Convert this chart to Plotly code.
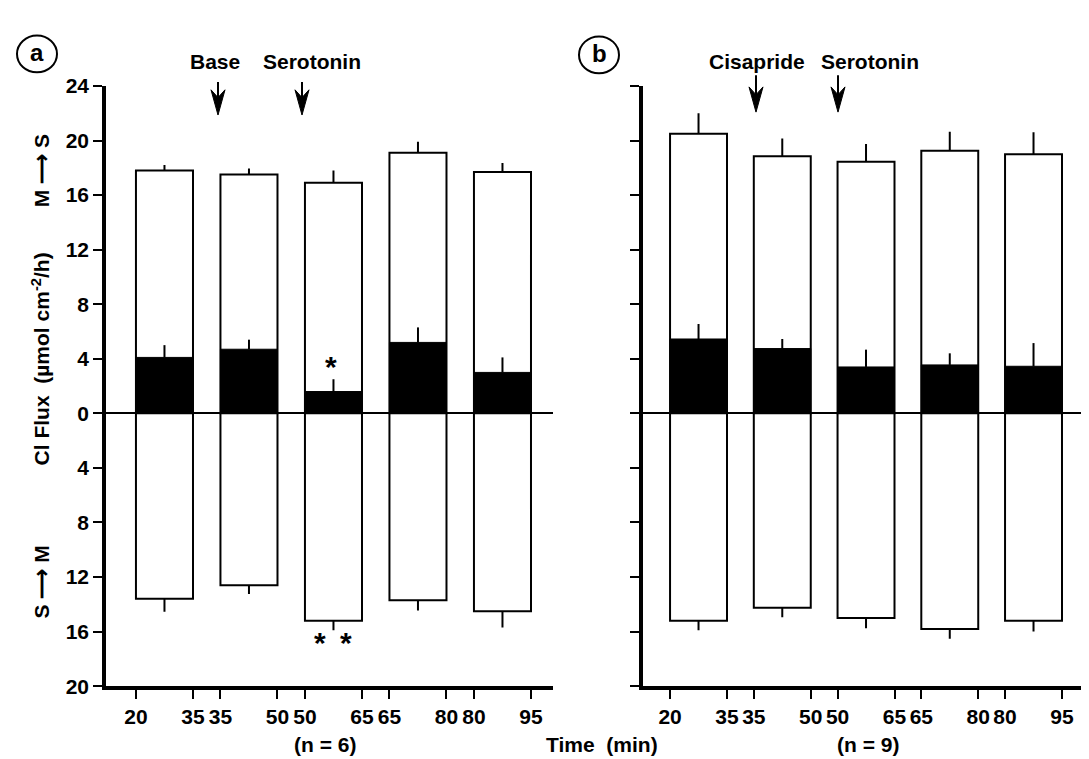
import plotly.graph_objects as go

# ---- data ----
time_edges = ["20", "35", "35", "50", "50", "65", "65", "80", "80", "95"]
y_tick_vals = [24, 20, 16, 12, 8, 4, 0, -4, -8, -12, -16, -20]
y_tick_text = ["24", "20", "16", "12", "8", "4", "0", "4", "8", "12", "16", "20"]

# panel a (n = 6): Base -> Serotonin
a_ms = [17.8, 17.5, 16.9, 19.1, 17.7]        # M -> S flux
a_ms_se = [0.4, 0.45, 0.9, 0.8, 0.65]
a_net = [4.1, 4.7, 1.6, 5.2, 3.0]            # net flux (black)
a_net_se = [0.9, 0.7, 0.9, 1.1, 1.1]
a_sm = [13.6, 12.6, 15.2, 13.7, 14.5]        # S -> M flux
a_sm_se = [0.95, 0.65, 0.7, 0.75, 1.2]

# panel b (n = 9): Cisapride -> Serotonin
b_ms = [20.5, 18.85, 18.45, 19.25, 19.0]
b_ms_se = [1.5, 1.3, 1.3, 1.4, 1.6]
b_net = [5.45, 4.75, 3.4, 3.55, 3.45]
b_net_se = [1.1, 0.7, 1.27, 0.85, 1.7]
b_sm = [15.2, 14.25, 15.0, 15.8, 15.2]
b_sm_se = [0.7, 0.7, 0.76, 0.72, 0.8]

periods = [0, 1, 2, 3, 4]

W, H = 1089, 759
FONT = "Liberation Sans, Arial, sans-serif"


def px(x):
    return x / W


def py(y):
    return 1 - y / H


fig = go.Figure()


def add_panel(ms, ms_se, net, net_se, sm, sm_se, xa, ya, width):
    neg_sm = [-v for v in sm]
    zeros = [0] * len(periods)
    fig.add_trace(go.Bar(
        x=periods, y=ms, width=width, xaxis=xa, yaxis=ya,
        marker=dict(color="white", line=dict(color="black", width=2)),
        error_y=dict(type="data", symmetric=False, array=ms_se, arrayminus=zeros,
                     width=0, thickness=2, color="black"),
        showlegend=False))
    fig.add_trace(go.Bar(
        x=periods, y=neg_sm, width=width, xaxis=xa, yaxis=ya,
        marker=dict(color="white", line=dict(color="black", width=2)),
        error_y=dict(type="data", symmetric=False, array=zeros, arrayminus=sm_se,
                     width=0, thickness=2, color="black"),
        showlegend=False))
    fig.add_trace(go.Bar(
        x=periods, y=net, width=width, xaxis=xa, yaxis=ya,
        marker=dict(color="black", line=dict(color="black", width=1)),
        error_y=dict(type="data", symmetric=False, array=net_se, arrayminus=zeros,
                     width=0, thickness=2, color="black"),
        showlegend=False))


wa, wb = 0.675, 0.68
add_panel(a_ms, a_ms_se, a_net, a_net_se, a_sm, a_sm_se, "x", "y", wa)
add_panel(b_ms, b_ms_se, b_net, b_net_se, b_sm, b_sm_se, "x2", "y2", wb)


def edge_vals(w):
    vals = []
    for p in periods:
        vals += [p - w / 2, p + w / 2]
    return vals


ydom = [py(687), py(68)]
tick_font = dict(family=FONT, size=21, color="black", weight="bold")
common_x = dict(showline=True, linewidth=3.5, linecolor="black", ticks="outside",
                ticklen=9, tickwidth=2, tickcolor="black", showgrid=False,
                zeroline=False, tickangle=0, tickfont=tick_font)
common_y = dict(showline=True, linewidth=3.5, linecolor="black", ticks="outside",
                ticklen=9, tickwidth=2, tickcolor="black", showgrid=False,
                zeroline=True, zerolinewidth=1.5, zerolinecolor="black",
                range=[-20, 24], tickvals=y_tick_vals, domain=ydom,
                tickfont=tick_font)

fig.update_layout(
    width=W, height=H, margin=dict(l=0, r=0, t=0, b=0),
    paper_bgcolor="white", plot_bgcolor="white", barmode="overlay",
    xaxis=dict(common_x, domain=[px(98), px(545)], range=[-0.692, 4.598],
               tickvals=edge_vals(wa), ticktext=time_edges, anchor="y"),
    yaxis=dict(common_y, ticktext=y_tick_text, anchor="x"),
    xaxis2=dict(common_x, domain=[px(635), 1.0], range=[-0.663, 4.758],
                tickvals=edge_vals(wb), ticktext=time_edges, anchor="y2"),
    yaxis2=dict(common_y, showticklabels=False, anchor="x2"),
)

ann = []


def text(x, y, s, size=21, angle=0):
    ann.append(dict(x=px(x), y=py(y), xref="paper", yref="paper", text=s,
                    showarrow=False, textangle=angle,
                    font=dict(family=FONT, size=size, color="black", weight="bold"),
                    xanchor="center", yanchor="middle"))


def arrow(x, y0, y1):
    # shaft
    fig.add_shape(type="line", xref="paper", yref="paper",
                  x0=px(x), x1=px(x), y0=py(y0), y1=py(y1 - 12),
                  line=dict(color="black", width=2))
    # barbed head
    path = (f"M {px(x)} {py(y1)} L {px(x - 7)} {py(y1 - 26)} "
            f"L {px(x)} {py(y1 - 18)} L {px(x + 7)} {py(y1 - 26)} Z")
    fig.add_shape(type="path", xref="paper", yref="paper", path=path,
                  fillcolor="black", line=dict(color="black", width=1))


# panel labels
text(29, 34, "a", size=24)
text(591, 35, "b", size=24)
fig.add_shape(type="circle", xref="paper", yref="paper",
              x0=px(9), x1=px(49), y0=py(54), y1=py(16),
              line=dict(color="black", width=2))
fig.add_shape(type="circle", xref="paper", yref="paper",
              x0=px(571), x1=px(611), y0=py(55), y1=py(17),
              line=dict(color="black", width=2))

# treatments
text(207, 43, "Base")
text(304, 43, "Serotonin")
arrow(210, 64, 98)
arrow(294, 64, 98)
text(749, 43, "Cisapride")
text(862, 43, "Serotonin")
arrow(748, 57, 95)
arrow(830, 57, 95)

# y-axis titles
text(33, 156, "M \u27f6 S", angle=-90)
text(33, 350, "Cl Flux  (\u00b5mol cm<sup>-2</sup>/h)", angle=-90)
text(33, 580, "S \u27f6 M", angle=-90)

# significance
text(323, 357, "*", size=30)
text(312, 642, "*", size=30)
text(338, 642, "*", size=30)

# bottom texts
text(317, 747, "(n = 6)")
text(594, 747, "Time  (min)")
text(860, 747, "(n = 9)")

fig.update_layout(annotations=ann)
fig.write_html("out.html")
